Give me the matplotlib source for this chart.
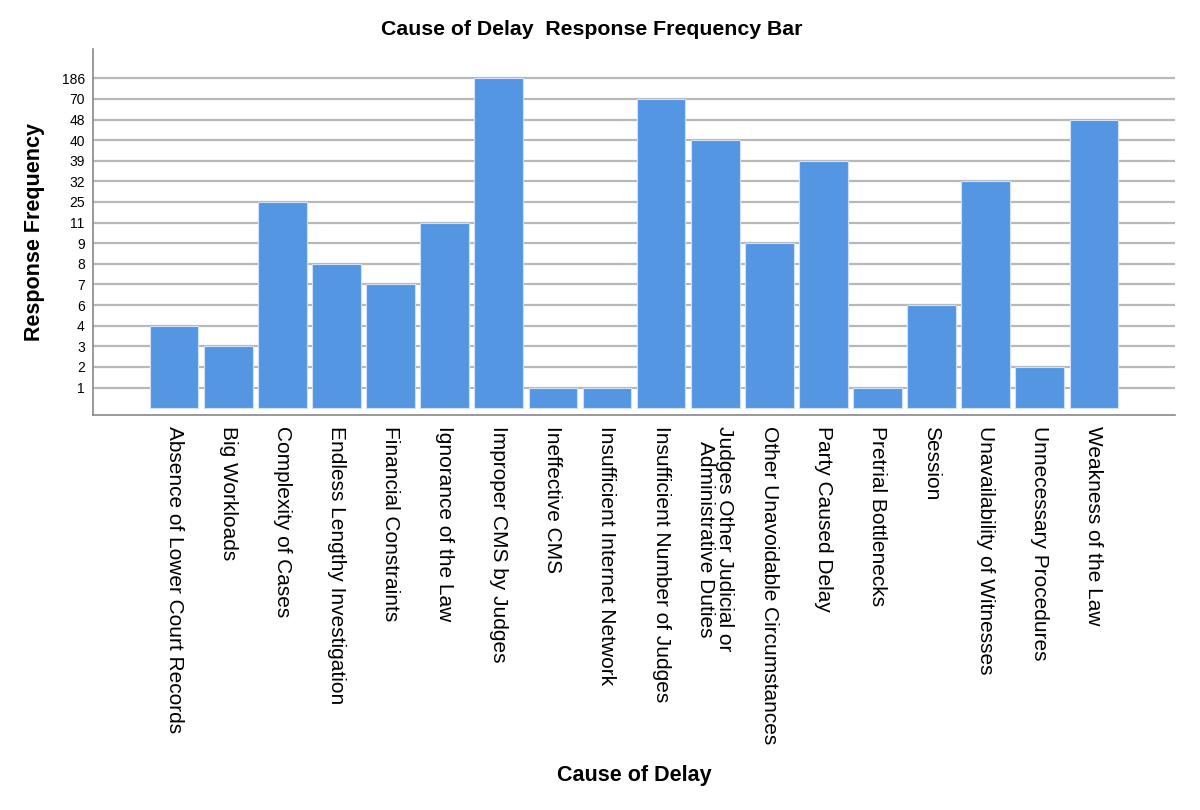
import matplotlib
matplotlib.use("Agg")
import matplotlib.pyplot as plt
import numpy as np

# Data
causes = ["Absence of Lower Court Records", "Big Workloads", "Complexity of Cases",
          "Endless Lengthy Investigation", "Financial Constraints", "Ignorance of the Law",
          "Improper CMS by Judges", "Ineffective CMS", "Insufficient Internet Network",
          "Insufficient Number of Judges", "Judges Other Judicial or\nAdministrative Duties",
          "Other Unavoidable Circumstances", "Party Caused Delay", "Pretrial Bottlenecks",
          "Session", "Unavailability of Witnesses", "Unnecessary Procedures",
          "Weakness of the Law"]
freq = [4, 3, 25, 8, 7, 11, 186, 1, 1, 70, 40, 9, 39, 1, 6, 32, 2, 48]

# SPSS treats the frequency as an ordinal category on the y axis
levels = sorted(set(freq))
ypos = [levels.index(v) + 1 for v in freq]

plt.rcParams['font.family'] = ['Liberation Sans', 'DejaVu Sans']

fig = plt.figure(figsize=(12, 8.1), dpi=100)
ax = fig.add_axes([0.0775, 0.4877, 0.9017, 0.4518])

x = np.arange(len(causes))
ax.bar(x, ypos, width=0.9, color='#5596e3', edgecolor='#cfe0f7', linewidth=0.8, zorder=3)

ax.set_xlim(-1.5, len(causes) + 0.5)
ax.set_ylim(-0.33, len(levels) + 1.42)
ax.set_yticks(range(1, len(levels) + 1))
ax.set_yticklabels([str(v) for v in levels], fontsize=10)
ax.set_xticks(x)
ax.set_xticklabels(causes, rotation=-90, fontsize=15, va='top', ha='center',
                   linespacing=0.98)
ax.tick_params(axis='both', length=0)
ax.tick_params(axis='x', pad=8)
ax.tick_params(axis='y', pad=6)

ax.yaxis.grid(True, color='#b8b8b8', linewidth=1.6, zorder=0)
ax.set_axisbelow(True)
for s in ['top', 'right']:
    ax.spines[s].set_visible(False)
for s in ['left', 'bottom']:
    ax.spines[s].set_color('#888888')
    ax.spines[s].set_linewidth(1.2)

ax.set_ylabel('Response Frequency', fontsize=15.5, fontweight='bold', labelpad=12)
fig.text(0.5283, 0.043, 'Cause of Delay', fontsize=15.5, fontweight='bold',
         ha='center', va='center')
fig.text(0.493, 0.963, 'Cause of Delay  Response Frequency Bar', fontsize=15.3,
         fontweight='bold', ha='center', va='center')

fig.savefig('out.png', dpi=100)
